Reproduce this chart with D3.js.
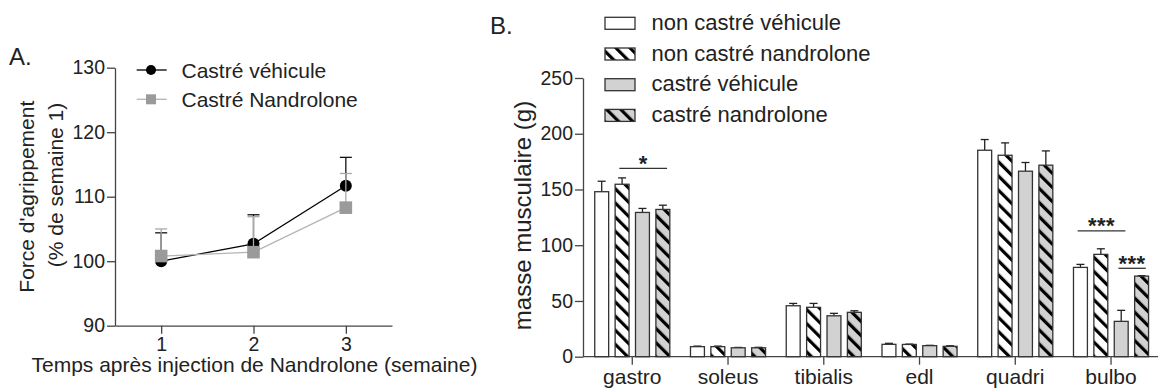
<!DOCTYPE html>
<html>
<head>
<meta charset="utf-8">
<script src="https://cdn.jsdelivr.net/npm/d3@7"></script>
<style>
  html, body { margin: 0; padding: 0; background: #fff; }
  svg { display: block; font-family: "Liberation Sans", Arial, sans-serif; }
  text { fill: #222; }
</style>
</head>
<body>
<svg id="chart" width="1158" height="389"></svg>
<script>
// ---- Panel A: grip strength over time ----
const weeks = [1, 2, 3];
const vehMean = [100.0, 102.7, 111.7];
const vehSem = [4.4, 4.5, 4.4];
const nanMean = [100.8, 101.4, 108.3];
const nanSem = [4.2, 5.5, 5.3];
const gripTicks = [90, 100, 110, 120, 130];
const gripLegend = ["Castré véhicule", "Castré Nandrolone"];

// ---- Panel B: muscle mass ----
const muscles = ["gastro", "soleus", "tibialis", "edl", "quadri", "bulbo"];
const groups = ["non castré véhicule", "non castré nandrolone", "castré véhicule", "castré nandrolone"];
const massNcVeh = [148.0, 9.0, 45.7, 11.1, 185.2, 80.1];
const massNcNan = [154.7, 9.0, 44.3, 11.0, 180.7, 91.8];
const massCVeh = [129.4, 8.0, 36.7, 9.9, 166.4, 31.7];
const massCNan = [132.1, 8.0, 39.8, 9.3, 171.8, 72.3];
const semNcVeh = [9.4, 0.5, 2.1, 0.9, 9.6, 2.7];
const semNcNan = [5.7, 0.5, 3.5, 0.3, 11.1, 5.0];
const semCVeh = [3.6, 0.3, 2.2, 0.3, 7.8, 9.9];
const semCNan = [3.8, 0.4, 1.4, 0.5, 12.8, 0.4];
const massTicks = [0, 50, 100, 150, 200, 250];

// significance brackets
const sigMuscle = ["gastro", "bulbo", "bulbo"];
const sigFrom = [1, 0, 2];
const sigTo = [3, 2, 3];
const sigLevel = [169, 112.8, 79.3];
const sigLabel = ["*", "***", "***"];

const svg = d3.select("#chart");
const axisColor = "#444";
const FS = 21;

// ================= Panel A =================
const xA = d3.scaleLinear().domain([0.5, 3.5]).range([115, 392]);
const yA = d3.scaleLinear().domain([90, 130]).range([325.7, 67.7]);

const gA = svg.append("g");

// axes
const yAxisA = gA.append("g").attr("transform", `translate(${xA.range()[0]},0)`)
  .call(d3.axisLeft(yA).tickValues(gripTicks).tickSize(8).tickPadding(2).tickSizeOuter(0));
const xAxisA = gA.append("g").attr("transform", `translate(0,${yA.range()[0]})`)
  .call(d3.axisBottom(xA).tickValues(weeks).tickFormat(d3.format("d")).tickSize(8).tickPadding(3).tickSizeOuter(0));
[yAxisA, xAxisA].forEach(a => {
  a.selectAll("path.domain, line").attr("stroke", axisColor).attr("stroke-width", 1.3);
  a.selectAll("text").attr("font-size", 19.5).attr("fill", "#222").attr("font-family", "Liberation Sans, Arial, sans-serif");
});

// axis titles
gA.append("text").attr("transform", "translate(34,196.7) rotate(-90)")
  .attr("text-anchor", "middle").attr("font-size", FS).text("Force d'agrippement");
gA.append("text").attr("transform", "translate(63,185) rotate(-90)")
  .attr("text-anchor", "middle").attr("font-size", FS).text("(% de semaine 1)");
gA.append("text").attr("x", 31.5).attr("y", 372).attr("font-size", FS)
  .text("Temps après injection de Nandrolone (semaine)");
gA.append("text").attr("x", 9).attr("y", 65).attr("font-size", 24).text("A.");

const seriesA = [
  { mean: vehMean, sem: vehSem, line: "#000", fill: "#000", errColor: "#111", shape: "circle" },
  { mean: nanMean, sem: nanSem, line: "#b4b4b4", fill: "#9a9a9a", errColor: "#a8a8a8", shape: "square" }
];

seriesA.forEach(s => {
  const pts = weeks.map((w, i) => ({ w, m: s.mean[i], e: s.sem[i] }));
  // upward error bars
  const eb = gA.append("g");
  eb.selectAll("line.stem").data(pts).join("line")
    .attr("x1", d => xA(d.w)).attr("x2", d => xA(d.w))
    .attr("y1", d => yA(d.m)).attr("y2", d => yA(d.m + d.e))
    .attr("stroke", s.errColor).attr("stroke-width", 1.3);
  eb.selectAll("line.cap").data(pts).join("line")
    .attr("x1", d => xA(d.w) - 6).attr("x2", d => xA(d.w) + 6)
    .attr("y1", d => yA(d.m + d.e)).attr("y2", d => yA(d.m + d.e))
    .attr("stroke", s.errColor).attr("stroke-width", 1.3);
  // connecting line
  gA.append("path").datum(pts)
    .attr("d", d3.line().x(d => xA(d.w)).y(d => yA(d.m)))
    .attr("fill", "none").attr("stroke", s.line).attr("stroke-width", 1.3);
  // markers
  if (s.shape === "circle") {
    gA.append("g").selectAll("circle").data(pts).join("circle")
      .attr("cx", d => xA(d.w)).attr("cy", d => yA(d.m)).attr("r", 6).attr("fill", s.fill);
  } else {
    gA.append("g").selectAll("rect").data(pts).join("rect")
      .attr("x", d => xA(d.w) - 6.3).attr("y", d => yA(d.m) - 6.3)
      .attr("width", 12.6).attr("height", 12.6).attr("fill", s.fill);
  }
});

// legend A
const legA = gA.append("g");
gripLegend.forEach((name, i) => {
  const s = seriesA[i];
  const y = 70 + i * 29.3;
  legA.append("line").attr("x1", 136.7).attr("x2", 166.7).attr("y1", y).attr("y2", y)
    .attr("stroke", s.line).attr("stroke-width", 1.3);
  if (s.shape === "circle") {
    legA.append("circle").attr("cx", 151).attr("cy", y).attr("r", 5).attr("fill", s.fill);
  } else {
    legA.append("rect").attr("x", 146).attr("y", y - 5).attr("width", 10).attr("height", 10).attr("fill", s.fill);
  }
  legA.append("text").attr("x", 181.5).attr("y", y + 7.5).attr("font-size", FS).text(name);
});

// ================= Panel B =================
const defs = svg.append("defs");
function stripes(id, bg) {
  const p = defs.append("pattern").attr("id", id).attr("patternUnits", "userSpaceOnUse")
    .attr("width", 10).attr("height", 10).attr("patternTransform", "rotate(-45)");
  p.append("rect").attr("width", 10).attr("height", 10).attr("fill", bg);
  p.append("rect").attr("x", 0).attr("width", 3.2).attr("height", 10).attr("fill", "#000");
}
stripes("hatchWhite", "#fff");
stripes("hatchGray", "#d2d2d2");
const groupFill = ["#fff", "url(#hatchWhite)", "#d2d2d2", "url(#hatchGray)"];

const massMeans = [massNcVeh, massNcNan, massCVeh, massCNan];
const massSems = [semNcVeh, semNcNan, semCVeh, semCNan];

const xB = d3.scaleBand().domain(muscles).range([584.4, 1158.9]).padding(0);
const xInner = d3.scaleBand().domain(d3.range(groups.length)).range([-40.8, 40.8])
  .paddingInner(0.317).paddingOuter(0.16);
const yB = d3.scaleLinear().domain([0, 250]).range([356.7, 78]);

const gB = svg.append("g");
const yAxisB = gB.append("g").attr("transform", "translate(583,0)")
  .call(d3.axisLeft(yB).tickValues(massTicks).tickSize(8).tickPadding(2).tickSizeOuter(0));
yAxisB.selectAll("path.domain, line").attr("stroke", axisColor).attr("stroke-width", 1.3);
yAxisB.selectAll("text").attr("font-size", 19.5).attr("fill", "#222").attr("font-family", "Liberation Sans, Arial, sans-serif");

// x axis baseline and category ticks
gB.append("line").attr("x1", 583).attr("x2", 1158).attr("y1", yB(0)).attr("y2", yB(0))
  .attr("stroke", axisColor).attr("stroke-width", 1.3);
const xAxisB = gB.append("g").attr("transform", `translate(0,${yB(0)})`)
  .call(d3.axisBottom(xB).tickSize(8).tickPadding(4).tickSizeOuter(0));
xAxisB.select("path.domain").remove();
xAxisB.selectAll("line").attr("stroke", axisColor).attr("stroke-width", 1.3);
xAxisB.selectAll("text").attr("font-size", FS).attr("fill", "#222").attr("font-family", "Liberation Sans, Arial, sans-serif");

gB.append("text").attr("transform", "translate(530.5,215.5) rotate(-90)")
  .attr("text-anchor", "middle").attr("font-size", 24).text("masse musculaire (g)");
gB.append("text").attr("x", 490).attr("y", 34).attr("font-size", 24).text("B.");

// bars
const barData = [];
muscles.forEach((m, mi) => {
  groups.forEach((g, gi) => {
    barData.push({ m, gi, v: massMeans[gi][mi], e: massSems[gi][mi] });
  });
});
const bx = d => xB(d.m) + xB.bandwidth() / 2 + xInner(d.gi);
const bw = xInner.bandwidth();

const barsG = gB.append("g");
barsG.selectAll("line.stem").data(barData).join("line")
  .attr("x1", d => bx(d) + bw / 2).attr("x2", d => bx(d) + bw / 2)
  .attr("y1", d => yB(d.v)).attr("y2", d => yB(d.v + d.e))
  .attr("stroke", "#222").attr("stroke-width", 1.3);
barsG.selectAll("line.cap").data(barData).join("line")
  .attr("x1", d => bx(d) + bw / 2 - 4).attr("x2", d => bx(d) + bw / 2 + 4)
  .attr("y1", d => yB(d.v + d.e)).attr("y2", d => yB(d.v + d.e))
  .attr("stroke", "#222").attr("stroke-width", 1.3);
barsG.selectAll("rect").data(barData).join("rect")
  .attr("x", d => bx(d)).attr("width", bw)
  .attr("y", d => yB(d.v)).attr("height", d => yB(0) - yB(d.v))
  .attr("fill", d => groupFill[d.gi]).attr("stroke", "#333").attr("stroke-width", 1.3);

// significance brackets
sigMuscle.forEach((m, i) => {
  const x0 = xB(m) + xB.bandwidth() / 2;
  const x1 = x0 + xInner(sigFrom[i]) + 0.3 * bw;
  const x2 = x0 + xInner(sigTo[i]) + 0.8 * bw;
  const y = yB(sigLevel[i]);
  gB.append("line").attr("x1", x1).attr("x2", x2).attr("y1", y).attr("y2", y)
    .attr("stroke", "#333").attr("stroke-width", 1.3);
  gB.append("text").attr("x", (x1 + x2) / 2).attr("y", y + 2.5)
    .attr("text-anchor", "middle").attr("font-size", 22).attr("font-weight", "bold")
    .attr("letter-spacing", 0.5).text(sigLabel[i]);
});

// legend B
const legB = gB.append("g");
groups.forEach((g, i) => {
  const y = 17.3 + i * 30.7;
  legB.append("rect").attr("x", 605).attr("y", y).attr("width", 30).attr("height", 12)
    .attr("fill", groupFill[i]).attr("stroke", "#333").attr("stroke-width", 1.3);
  legB.append("text").attr("x", 651.5).attr("y", y + 12.5).attr("font-size", 22).text(g);
});
</script>
</body>
</html>
